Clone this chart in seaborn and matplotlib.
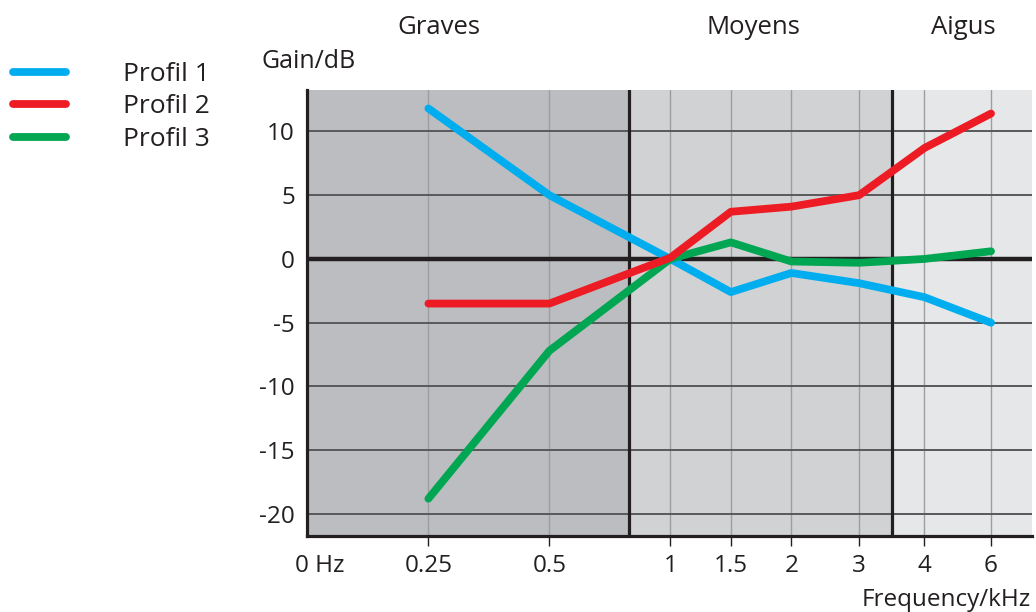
import numpy as np
import pandas as pd
import matplotlib
matplotlib.use("Agg")
import matplotlib.pyplot as plt
from matplotlib.lines import Line2D
import seaborn as sns

# Measured equaliser profiles (gain in dB at each band centre, kHz)
freq_khz = [0.25, 0.5, 1, 1.5, 2, 3, 4, 6]
freq_labels = ["0.25", "0.5", "1", "1.5", "2", "3", "4", "6"]
profil_1 = [11.8, 5.0, 0.0, -2.6, -1.1, -1.9, -3.0, -5.0]
profil_2 = [-3.5, -3.5, 0.1, 3.7, 4.1, 5.0, 8.7, 11.4]
profil_3 = [-18.8, -7.2, 0.0, 1.3, -0.2, -0.3, 0.0, 0.6]
profile_names = ["Profil 1", "Profil 2", "Profil 3"]
profile_colors = ["#00aeef", "#ed1c24", "#00a651"]
gain_ticks = [10, 5, 0, -5, -10, -15, -20]

# Frequency bands: Graves / Moyens / Aigus, split at these frequencies (kHz)
band_names = ["Graves", "Moyens", "Aigus"]
band_edges = [0.83, 3.5]
band_colors = ["#bcbdc1", "#d1d2d4", "#e6e7e8"]

# Piecewise axis scale: equal spacing per octave below 1 kHz, half spacing above
knot_f = [-1.0, 0.0, 0.25, 0.5, 1.0, 1.5, 2.0, 3.0, 4.0, 6.0, 10.0]
knot_pos = [-1.9, -0.9, 0.0, 1.0, 2.0, 2.5, 3.0, 3.56, 4.1, 4.65, 6.0]


def fwd(f):
    return np.interp(f, knot_f, knot_pos)


def inv(p):
    return np.interp(p, knot_pos, knot_f)


df = pd.DataFrame({
    "kHz": freq_khz * 3,
    "Gain": profil_1 + profil_2 + profil_3,
    "Profil": sum([[n] * len(freq_khz) for n in profile_names], []),
})

sns.set_theme(style="white")
plt.rcParams["font.family"] = ["Open Sans", "DejaVu Sans"]
plt.rcParams["axes.unicode_minus"] = False
FS = 17.5
INK = "#231f20"

fig = plt.figure(figsize=(10.36, 6.12), dpi=100)
ax = fig.add_axes([0.296, 0.1247, 0.700, 0.7283])

sns.lineplot(data=df, x="kHz", y="Gain", hue="Profil", hue_order=profile_names,
             palette=profile_colors, linewidth=5.6, solid_capstyle="round",
             solid_joinstyle="round", legend=False, ax=ax, zorder=3)
# red profile drawn on top
for line, z in zip(ax.get_lines(), [3, 5, 4]):
    line.set_zorder(z)

ax.set_xscale("function", functions=(fwd, inv))
x0, x1 = -0.106, 7.0
ax.set_xlim(x0, x1)
ax.set_ylim(-21.7, 13.25)

# band backgrounds and separators
spans = [x0] + band_edges + [x1]
for a, b, c in zip(spans[:-1], spans[1:], band_colors):
    ax.axvspan(a, b, color=c, zorder=0, lw=0)
for e in band_edges:
    ax.axvline(e, color=INK, lw=2.3, zorder=2)
ax.axhline(0, color=INK, lw=3.2, zorder=2)

ax.set_xticks(freq_khz, freq_labels)
ax.set_yticks(gain_ticks, [str(v) for v in gain_ticks])
ax.set_axisbelow(True)
ax.grid(axis="y", color="#58595b", lw=1.4)
ax.grid(axis="x", color="#9d9ea0", lw=1.0)

ax.tick_params(axis="x", length=7, width=1, color=INK, pad=6,
               labelsize=FS, labelcolor=INK, bottom=True)
ax.tick_params(axis="y", length=0, pad=8.5, labelsize=FS, labelcolor=INK)
ax.set_xlabel("")
ax.set_ylabel("")
for s in ["top", "right"]:
    ax.spines[s].set_visible(False)
for s in ["left", "bottom"]:
    ax.spines[s].set_color(INK)
    ax.spines[s].set_linewidth(2.3)
    ax.spines[s].set_zorder(6)

ax.annotate("0 Hz", xy=(0, 0), xycoords=("data", "axes fraction"),
            xytext=(0, -13), textcoords="offset points",
            ha="center", va="top", fontsize=FS, color=INK)

# band titles
for name, px in zip(band_names, [439, 753, 963]):
    fig.text(px / 1036, 1 - 28 / 612, name, ha="center", va="center",
             fontsize=18.5, color=INK)

fig.text(309 / 1036, 1 - 62 / 612, "Gain/dB", ha="center", va="center",
         fontsize=18, color=INK)
fig.text(1031 / 1036, 1 - 600 / 612, "Frequency/kHz", ha="right", va="center",
         fontsize=17.5, color=INK)

handles = [Line2D([], [], color=c, lw=5.6, solid_capstyle="round")
           for c in profile_colors]
fig.legend(handles, profile_names, loc="center left",
           bbox_to_anchor=(13 / 1036, 1 - 107 / 612), frameon=False,
           handlelength=2.0, handletextpad=2.16, labelspacing=0.29,
           borderpad=0, borderaxespad=0, fontsize=19, labelcolor=INK)

fig.savefig("out.png", dpi=100)
